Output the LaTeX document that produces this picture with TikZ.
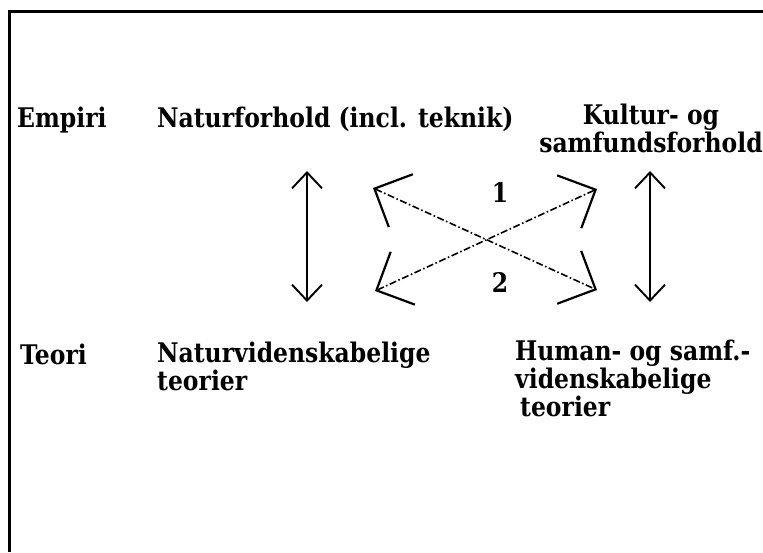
\documentclass[tikz,border=0pt]{standalone}
\usepackage{fontspec}
\usetikzlibrary{arrows.meta}
% heavy slab-serif lettering, slightly condensed
\newfontfamily\labfont{DejaVu Serif}[FakeStretch=0.87]
\begin{document}
\begin{tikzpicture}[x=1pt,y=-1pt,
  lab/.style={inner sep=0pt, font=\labfont\fontsize{27}{26}\selectfont\bfseries},
  frame/.style={line width=2.6pt, line join=miter},
  barb/.tip={Straight Barb[length=16pt,width=30pt,line width=1.9pt]},
  bigbarb/.tip={Straight Barb[length=29pt,width=58pt,line width=2.2pt]},
  updown/.style={line width=1.9pt, barb-barb},
  cross/.style={line width=1.6pt, dash pattern=on 7pt off 2.5pt on 1.6pt off 2.5pt, bigbarb-bigbarb},
  num/.style={lab}]
\useasboundingbox (0,0) rectangle (763,552);
\fill[white] (0,0) rectangle (763,552);
% open frame: top and left edges
\draw[frame] (763,11.5) -- (9.5,11.5) -- (9.5,552);

% row labels
\node[lab, anchor=base west] (empiri) at (17,127) {Empiri};
\node[lab, anchor=base west] (teori) at (20,364) {Teori};

% column headings (base anchor = baseline of the last line)
\node[lab, anchor=base west] (natur) at (157,127) {Naturforhold (incl. teknik)};
\node[lab, anchor=base, align=center] (kultur) at (651,152) {Kultur- og\\samfundsforhold};
\node[lab, anchor=base west, align=left] (natteori) at (157,390) {Naturvidenskabelige\\teorier};
\node[lab, anchor=base west, align=left] (humteori) at (515,416) {Human- og samf.-\\videnskabelige\\\hspace*{5pt}teorier};

% end points of the connectors
\coordinate (lt) at (307,171);
\coordinate (lb) at (307,302);
\coordinate (rt) at (650,171);
\coordinate (rb) at (650,302);
\coordinate (xul) at (373,188);
\coordinate (xlr) at (597,290);
\coordinate (xll) at (375,291);
\coordinate (xur) at (597,189);

\draw[updown] (lt) -- (lb);
\draw[updown] (rt) -- (rb);
\draw[cross] (xul) -- (xlr);
\draw[cross] (xll) -- (xur);

\node[num] (one) at (500,192) {1};
\node[num] (two) at (500,282) {2};
\end{tikzpicture}
\end{document}
